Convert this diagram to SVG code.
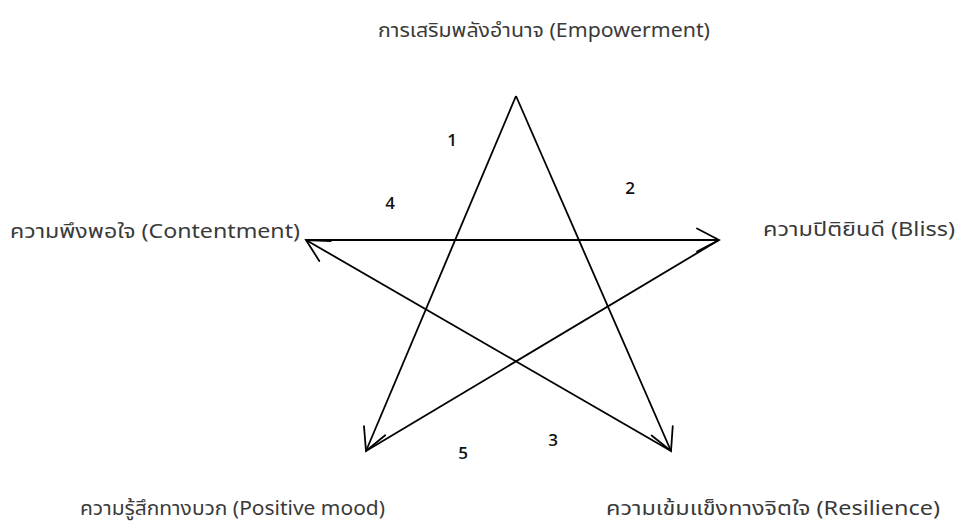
<svg xmlns="http://www.w3.org/2000/svg" width="965" height="525" viewBox="0 0 965 525">
<style>
.lbl{font-family:"Noto Sans Thai","Leelawadee UI","Noto Sans","DejaVu Sans",sans-serif;font-size:19px;fill:#3a3a3a;}
.num{font-family:"Open Sans","Noto Sans",sans-serif;font-size:17px;font-weight:600;fill:#111;text-anchor:middle;}
.ln{stroke:#000;stroke-width:1.8;fill:none;}
</style>
<defs>
<marker id="ah" viewBox="0 0 28 28" markerWidth="28" markerHeight="28" refX="25" refY="14" orient="auto" markerUnits="userSpaceOnUse">
<path d="M3,2.5 L25,14 L3,25.5" fill="none" stroke="#000" stroke-width="1.8" stroke-linecap="round"/>
</marker>
</defs>
<rect width="965" height="525" fill="#fff"/>
<g id="connectors">
<line class="ln" x1="516" y1="96" x2="366" y2="451" marker-end="url(#ah)"/>
<line class="ln" x1="516" y1="96" x2="671" y2="451" marker-end="url(#ah)"/>
<line class="ln" x1="306" y1="240" x2="719" y2="240" marker-end="url(#ah)"/>
<line class="ln" x1="671" y1="451" x2="306" y2="240" marker-end="url(#ah)"/>
<line class="ln" x1="366" y1="451" x2="719" y2="240"/>
</g>
<g id="node-empowerment"><text class="lbl" x="378" y="37" textLength="332" lengthAdjust="spacingAndGlyphs">การเสริมพลังอำนาจ (Empowerment)</text></g>
<g id="node-contentment"><text class="lbl" x="10" y="238" textLength="290" lengthAdjust="spacingAndGlyphs">ความพึงพอใจ (Contentment)</text></g>
<g id="node-bliss"><text class="lbl" x="763" y="236" textLength="192" lengthAdjust="spacingAndGlyphs">ความปิติยินดี (Bliss)</text></g>
<g id="node-positive"><text class="lbl" x="80" y="515" textLength="305" lengthAdjust="spacingAndGlyphs">ความรู้สึกทางบวก (Positive mood)</text></g>
<g id="node-resilience"><text class="lbl" x="606" y="515" textLength="334" lengthAdjust="spacingAndGlyphs">ความเข้มแข็งทางจิตใจ (Resilience)</text></g>
<g id="numbers">
<text class="num" x="452" y="146">1</text>
<text class="num" x="630" y="194">2</text>
<text class="num" x="553" y="446">3</text>
<text class="num" x="390" y="209">4</text>
<text class="num" x="463" y="459">5</text>
</g>
</svg>
